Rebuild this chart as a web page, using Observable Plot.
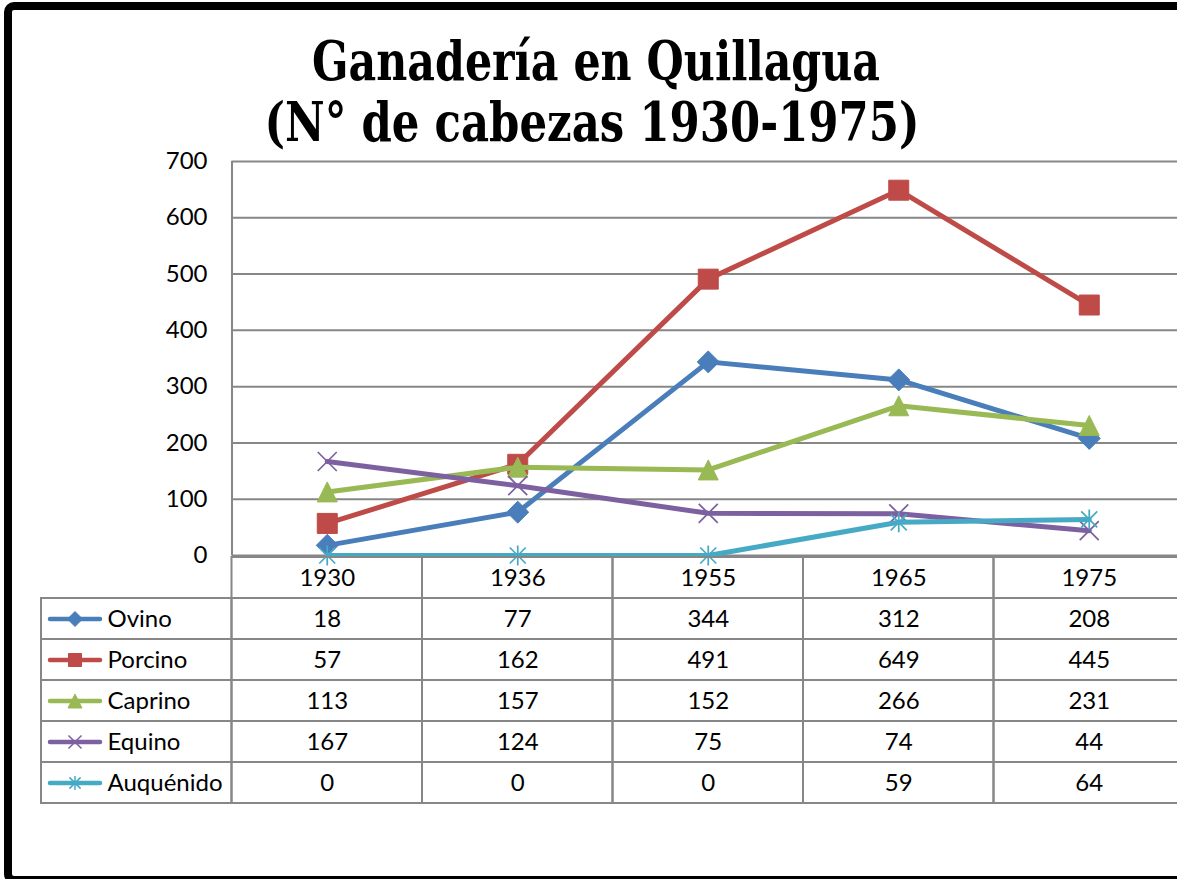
<!DOCTYPE html>
<html>
<head>
<meta charset="utf-8">
<script src="https://cdn.jsdelivr.net/npm/d3@7"></script>
<script src="https://cdn.jsdelivr.net/npm/@observablehq/plot@0.6"></script>
<style>
html, body { margin: 0; padding: 0; background: #fff; overflow: hidden; width: 1177px; height: 879px; }
#wrap { position: relative; width: 1177px; height: 879px; overflow: hidden; background: #fff; }
#frame { position: absolute; left: 4px; top: 2px; width: 1300px; height: 866px; border: 8px solid #000; border-radius: 10px; }
#title, #chart, #table { position: absolute; left: 0; top: 0; }
#title text { font-family: "DejaVu Serif", serif; font-weight: bold; font-size: 55px; fill: #000; }
</style>
</head>
<body>
<div id="wrap">
  <div id="frame"></div>
  <div id="chart"></div>
  <div id="table"></div>
  <svg id="title" width="1177" height="170">
    <text x="596" y="80" text-anchor="middle" textLength="568" lengthAdjust="spacingAndGlyphs">Ganadería en Quillagua</text>
    <text x="592" y="141" text-anchor="middle" textLength="655" lengthAdjust="spacingAndGlyphs">(N° de cabezas 1930-1975)</text>
  </svg>
</div>
<script>
// ---- data ----
const years = ["1930", "1936", "1955", "1965", "1975"];
const seriesNames = ["Ovino", "Porcino", "Caprino", "Equino", "Auquénido"];
const ovino = [18, 77, 344, 312, 208];
const porcino = [57, 162, 491, 649, 445];
const caprino = [113, 157, 152, 266, 231];
const equino = [167, 124, 75, 74, 44];
const auquenido = [0, 0, 0, 59, 64];
const yTicks = [0, 100, 200, 300, 400, 500, 600, 700];
const colors = ["#4A7EBB", "#BE4B48", "#98B954", "#7D60A0", "#46AAC5"];

// ---- custom marker symbols ----
const rad = s => Math.sqrt(s / Math.PI);
const symDiamond = {draw(c, s) { const r = rad(s); c.moveTo(0, -r); c.lineTo(r, 0); c.lineTo(0, r); c.lineTo(-r, 0); c.closePath(); }};
const symSquare = {draw(c, s) { const r = rad(s); c.rect(-r, -r, 2 * r, 2 * r); }};
const symTriangle = {draw(c, s) { const r = rad(s); c.moveTo(0, -r); c.lineTo(r, r); c.lineTo(-r, r); c.closePath(); }};
const symTimes = {draw(c, s) { const r = rad(s); c.moveTo(-r, -r); c.lineTo(r, r); c.moveTo(r, -r); c.lineTo(-r, r); }};
const symAsterisk = {draw(c, s) { const r = rad(s); const a = r * 0.8; c.moveTo(-a, -a); c.lineTo(a, a); c.moveTo(a, -a); c.lineTo(-a, a); c.moveTo(0, -r); c.lineTo(0, r); }};
const symSeg = {draw(c) { c.moveTo(-25, 0); c.lineTo(25, 0); }};

const series = [
  {name: seriesNames[0], values: ovino, color: colors[0], symbol: symDiamond, r: 11, lr: 7.5, filled: true},
  {name: seriesNames[1], values: porcino, color: colors[1], symbol: symSquare, r: 10, lr: 6.5, filled: true},
  {name: seriesNames[2], values: caprino, color: colors[2], symbol: symTriangle, r: 10, lr: 7, filled: true},
  {name: seriesNames[3], values: equino, color: colors[3], symbol: symTimes, r: 9.5, lr: 6.5, filled: false},
  {name: seriesNames[4], values: auquenido, color: colors[4], symbol: symAsterisk, r: 10, lr: 7, filled: false}
];

const grid = "#878787";
const xDomain = [-1, 5];
const xRange = [41, 1184];
const font = "Lato, 'Open Sans', sans-serif";

// ---- chart ----
const chartMarks = [
  Plot.ruleY(yTicks, {y: d => d, x1: 0, x2: 5, stroke: grid, strokeWidth: 2}),
  Plot.ruleX([0], {x: d => d, y1: 0, y2: 700, stroke: grid, strokeWidth: 2})
];
for (const s of series) {
  const data = s.values.map((v, i) => ({x: i + 0.5, y: v}));
  chartMarks.push(Plot.line(data, {x: "x", y: "y", stroke: s.color, strokeWidth: 5, strokeLinejoin: "round", strokeLinecap: "round"}));
  chartMarks.push(Plot.dot(data, {
    x: "x", y: "y", symbol: s.symbol, r: s.r,
    fill: s.filled ? s.color : "none", stroke: s.color, strokeWidth: s.filled ? 1 : 1.75
  }));
}
const chart = Plot.plot({
  width: 1177, height: 879,
  marginLeft: 232, marginTop: 161, marginBottom: 324, marginRight: 0,
  x: {type: "linear", domain: xDomain, range: xRange, axis: null},
  y: {domain: [0, 700], range: [555, 161], ticks: yTicks, tickSize: 0, tickPadding: 25, tickFormat: d => String(d), label: null},
  style: {background: "transparent", fontFamily: font, fontSize: "24px", color: "#000", overflow: "visible"},
  marks: chartMarks
});
document.getElementById("chart").appendChild(chart);

// ---- data table ----
const rows = ["hdr", ...seriesNames];
const cells = [];
years.forEach((yr, i) => cells.push({c: i, row: "hdr", t: yr}));
series.forEach(s => {
  cells.push({c: -1, row: s.name, t: s.name, s});
  s.values.forEach((v, i) => cells.push({c: i, row: s.name, t: String(v)}));
});
const legendCells = cells.filter(d => d.c < 0);
const tableMarks = [
  Plot.barX(cells, {x1: "c", x2: d => d.c + 1, y: "row", fill: "none", stroke: grid, strokeWidth: 2, inset: 0}),
  Plot.text(cells.filter(d => d.c >= 0), {x: d => d.c + 0.5, y: "row", text: "t", fill: "#000"}),
  Plot.text(legendCells, {x: "c", dx: 66, y: "row", text: "t", textAnchor: "start", fill: "#000"}),
  Plot.dot(legendCells, {x: "c", dx: 33.5, y: "row", symbol: symSeg, r: 5, stroke: d => d.s.color, strokeWidth: 4.5, strokeLinecap: "round", fill: "none"})
];
for (const s of series) {
  const lc = legendCells.filter(d => d.s === s);
  tableMarks.push(Plot.dot(lc, {
    x: "c", dx: 33.5, y: "row", symbol: s.symbol, r: s.lr,
    fill: s.filled ? s.color : "none", stroke: s.color, strokeWidth: s.filled ? 1 : 1.5
  }));
}
const table = Plot.plot({
  width: 1177, height: 879,
  marginLeft: 0, marginTop: 0, marginBottom: 0, marginRight: 0,
  x: {type: "linear", domain: xDomain, range: xRange, axis: null},
  y: {type: "band", domain: rows, range: [555, 804], padding: 0, axis: null},
  style: {background: "transparent", fontFamily: font, fontSize: "24px", color: "#000", overflow: "visible"},
  marks: tableMarks
});
document.getElementById("table").appendChild(table);
</script>
</body>
</html>
